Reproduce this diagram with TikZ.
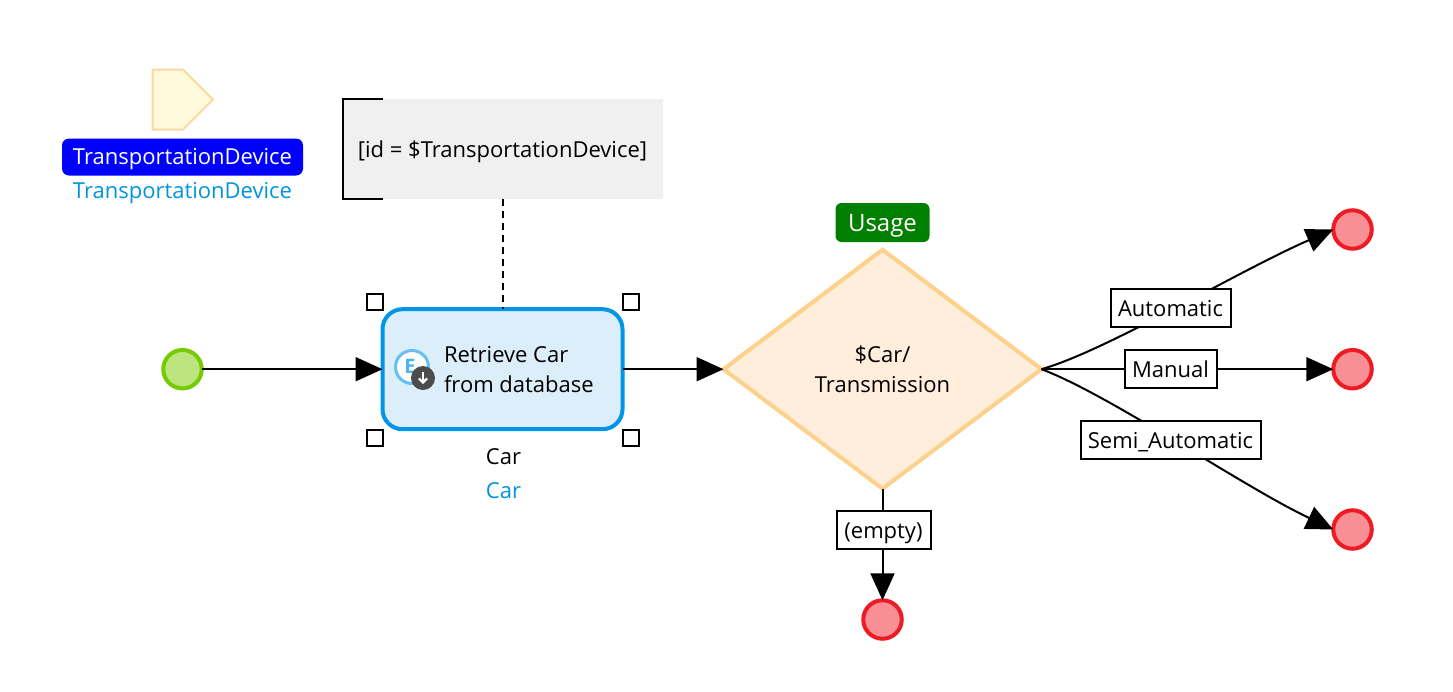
\documentclass[tikz,border=0pt]{standalone}
\usepackage{fontspec}
\setmainfont{Open Sans}
\usetikzlibrary{arrows.meta,shapes.geometric}
\definecolor{actblue}{HTML}{0095E8}
\definecolor{actfill}{HTML}{DBEEF9}
\definecolor{linkblue}{HTML}{0095DB}
\definecolor{endred}{HTML}{ED1C24}
\definecolor{endfill}{HTML}{F78F94}
\definecolor{startgreen}{HTML}{76CA02}
\definecolor{startfill}{HTML}{BCE57F}
\definecolor{decline}{HTML}{FDD08B}
\definecolor{decfill}{HTML}{FFEEDC}
\definecolor{parline}{HTML}{FDD8A0}
\definecolor{parfill}{HTML}{FFFADB}
\definecolor{notegrey}{HTML}{F0F0F0}
\definecolor{usagegreen}{HTML}{007F00}
\tikzset{
  fontbase/.style={font=\fontsize{22}{30}\selectfont, inner sep=0pt, outer sep=0pt},
  basetext/.style={fontbase, text height=22pt, text depth=5pt},
  flow/.style={draw=black, line width=2pt, -{Triangle[length=27pt,width=24pt]}},
  plainflow/.style={draw=black, line width=2pt},
  endevent/.style={circle, draw=endred, fill=endfill, line width=4pt, minimum size=38.5pt, inner sep=0pt, outer sep=0pt},
  startevent/.style={circle, draw=startgreen, fill=startfill, line width=4pt, minimum size=38.5pt, inner sep=0pt, outer sep=0pt},
  condlabel/.style={basetext, draw=black, fill=white, line width=2pt, minimum height=38pt, align=center},
  badge/.style={basetext, rounded corners=6pt, text=white, minimum height=37pt, align=center},
  handlebox/.style={draw=black, fill=white, line width=2pt, minimum size=16pt, inner sep=0pt, outer sep=0pt},
  bluetext/.style={basetext, text=linkblue},
}
\begin{document}
\begin{tikzpicture}[x=1pt,y=-1pt]
\useasboundingbox (0,0) rectangle (1453,691);
% parameter pentagon
\draw[parline, fill=parfill, line width=2pt] (152.5,69.5) -- (183,69.5) -- (213,99.5) -- (183,129.5) -- (152.5,129.5) -- cycle;
\node[badge, fill=blue, minimum width=241pt, rounded corners=7pt, text height=21pt, text depth=6pt] (paramname) at (182.5,157) {TransportationDevice};
\node[bluetext] (paramtype) at (182.5,190) {TransportationDevice};
% note
\node[basetext, fill=notegrey, minimum width=320pt, minimum height=100pt] (note) at (502.5,149) {[id = \$TransportationDevice]};
\draw[black, line width=2pt] (382.5,99) -- (343,99) -- (343,199) -- (382.5,199);
% activity
\node[draw=actblue, fill=actfill, line width=4pt, rounded corners=20pt, minimum width=240pt, minimum height=120pt, inner sep=0pt, outer sep=0pt] (activity) at (502.5,369.2) {};
\node[circle, draw=actblue!60, fill=white, line width=3pt, minimum size=33pt, inner sep=0pt] (iconE) at (412,367) {};
\node[font=\fontsize{20}{20}\selectfont\bfseries, text=actblue!70, inner sep=0pt] (iconEtext) at (410,366) {E};
\node[circle, fill=black!70, minimum size=24pt, inner sep=0pt] (iconDown) at (423,378) {};
\draw[white, line width=2.2pt, -{Straight Barb[length=4pt,width=8pt]}] (iconDown.center) ++(0,-6) -- ++(0,12);
\node[fontbase, align=left, anchor=west] (acttext) at (444,369.5) {Retrieve Car\\from database};
\foreach \hx/\hy/\hn in {374.5/301.5/a,630.5/301.5/b,374.5/437.5/c,630.5/437.5/d}
  \node[handlebox] (handle\hn) at (\hx,\hy) {};
\node[basetext] (cartext) at (503.5,456) {Car};
\node[bluetext] (cartype) at (503.5,490) {Car};
% events
\node[startevent] (start) at (182.5,369.2) {};
\node[endevent] (endauto) at (1352.5,229.5) {};
\node[endevent] (endman) at (1352.5,369.2) {};
\node[endevent] (endsemi) at (1352.5,529.5) {};
\node[endevent] (endempty) at (882.5,619.5) {};
% decision
\node[diamond, aspect=1.33, draw=decline, fill=decfill, line width=4pt, minimum width=318pt, minimum height=239pt, inner sep=0pt, outer sep=0pt, fontbase, align=center] (decision) at (882.5,369.2) {\$Car/\\Transmission};
\node[badge, fill=usagegreen, minimum width=94pt, minimum height=39pt, font=\fontsize{24}{30}\selectfont] (usage) at (882.5,222.5) {Usage};
% connectors
\draw[plainflow, dash pattern=on 7pt off 5pt] (note.south) -- (activity.north);
\draw[flow] (start) -- (activity);
\draw[flow] (activity) -- (decision);
\draw[flow] (decision.east) .. controls (1108,350) and (1236,272) .. (endauto.west);
\draw[flow] (decision.east) -- (endman.west);
\draw[flow] (decision.east) .. controls (1110,395) and (1240,485) .. (endsemi.west);
\draw[flow] (decision.south) -- (endempty.north);
% condition labels
\node[condlabel, minimum width=120pt] (lblauto) at (1170.5,307.5) {Automatic};
\node[condlabel, minimum width=92pt] (lblman) at (1170.5,369.2) {Manual};
\node[condlabel, minimum width=180pt] (lblsemi) at (1170.5,439.5) {Semi\_Automatic};
\node[condlabel, minimum width=94pt] (lblempty) at (883.5,529.5) {(empty)};
\end{tikzpicture}
\end{document}
